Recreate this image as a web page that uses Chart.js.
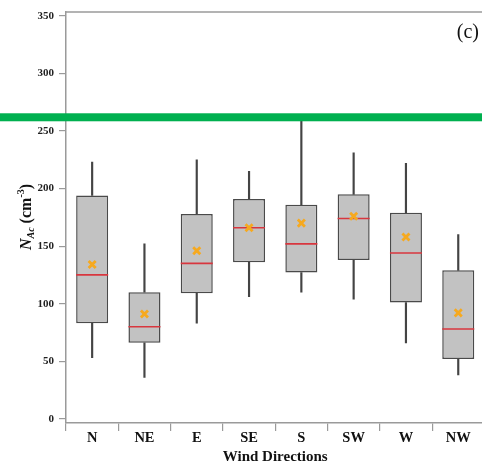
<!DOCTYPE html>
<html>
<head>
<meta charset="utf-8">
<script src="https://cdn.jsdelivr.net/npm/chart.js@4"></script>
<style>
  html, body { margin: 0; padding: 0; background: #fff; overflow: hidden; }
  #wrap { width: 482px; height: 468px; overflow: hidden; }
</style>
</head>
<body>
<div id="wrap"><canvas id="chartCanvas" width="486" height="468"></canvas></div>
<script>
const directions = ["N", "NE", "E", "SE", "S", "SW", "W", "NW"];
const whiskerLow = [53, 36, 83, 106, 110, 104, 66, 38];
const q1 = [83, 66, 109, 136, 127, 138, 101, 52];
const medians = [125, 80, 135, 166, 152, 174, 144, 78];
const q3 = [194, 110, 178, 191, 186, 195, 179, 129];
const whiskerHigh = [223, 152, 225, 215, 259, 231, 222, 160];
const means = [134, 91, 146, 166, 170, 176, 158, 92];
const yTicks = [0, 50, 100, 150, 200, 250, 300, 350];
const thresholdLevel = 262;

const SERIF = "'Liberation Serif', 'DejaVu Serif', serif";
const AXIS_GREY = "#9a9a9a";

// frame, green threshold line, panel label and axis titles
const extras = {
  id: "extras",
  beforeDatasetsDraw(chart) {
    const { ctx, chartArea } = chart;
    ctx.save();
    ctx.strokeStyle = AXIS_GREY;
    ctx.lineWidth = 1.5;
    ctx.beginPath();
    ctx.moveTo(chartArea.left, chartArea.top);
    ctx.lineTo(chartArea.right, chartArea.top);
    ctx.lineTo(chartArea.right, chartArea.bottom);
    ctx.stroke();
    ctx.restore();
  },
  afterDraw(chart) {
    const { ctx, chartArea, scales } = chart;
    ctx.save();

    // green threshold band across the whole figure
    const gy = scales.y.getPixelForValue(thresholdLevel);
    ctx.fillStyle = "#00b050";
    ctx.fillRect(0, gy - 4, chart.width, 8);

    // panel label
    ctx.fillStyle = "#111";
    ctx.font = "20px " + SERIF;
    ctx.textAlign = "right";
    ctx.textBaseline = "alphabetic";
    ctx.fillText("(c)", 479, 38);

    // x title
    ctx.font = "bold 15px " + SERIF;
    ctx.textAlign = "center";
    ctx.textBaseline = "middle";
    ctx.fillText("Wind Directions", (chartArea.left + chartArea.right) / 2, 457);

    // y title: N_Ac (cm^-3), rotated
    const parts = [
      { t: "N", f: "italic bold 16px " + SERIF, dy: 0 },
      { t: "Ac", f: "italic bold 10px " + SERIF, dy: 3 },
      { t: " (cm", f: "bold 16px " + SERIF, dy: 0 },
      { t: "-3", f: "bold 10px " + SERIF, dy: -7 },
      { t: ")", f: "bold 16px " + SERIF, dy: 0 },
    ];
    let total = 0;
    parts.forEach((p) => { ctx.font = p.f; p.w = ctx.measureText(p.t).width; total += p.w; });
    ctx.translate(31, 217);
    ctx.rotate(-Math.PI / 2);
    ctx.textAlign = "left";
    ctx.textBaseline = "alphabetic";
    let x = -total / 2;
    parts.forEach((p) => {
      ctx.font = p.f;
      ctx.fillText(p.t, x, p.dy);
      x += p.w;
    });
    ctx.restore();
  },
};

const whiskerStyle = {
  type: "bar",
  backgroundColor: "#444444",
  borderWidth: 0,
  barThickness: 1.5,
  grouped: false,
  order: 4,
};

new Chart(document.getElementById("chartCanvas"), {
  data: {
    labels: directions,
    datasets: [
      { ...whiskerStyle, label: "lower whisker", data: directions.map((d, i) => [whiskerLow[i], q1[i]]) },
      { ...whiskerStyle, label: "upper whisker", data: directions.map((d, i) => [q3[i], whiskerHigh[i]]) },
      {
        type: "bar",
        label: "IQR",
        data: directions.map((d, i) => [q1[i], q3[i]]),
        backgroundColor: "#c2c2c2",
        borderColor: "#4a4a4a",
        borderWidth: 1.5,
        borderSkipped: false,
        grouped: false,
        categoryPercentage: 1,
        barPercentage: 0.612,
        order: 3,
      },
      {
        type: "line",
        label: "median",
        data: medians,
        showLine: false,
        pointStyle: "line",
        pointRadius: 16,
        pointBorderWidth: 1.6,
        pointBorderColor: "#d8363e",
        borderColor: "#d8363e",
        order: 2,
      },
      {
        type: "line",
        label: "mean",
        data: means,
        showLine: false,
        pointStyle: "crossRot",
        pointRadius: 5,
        pointBorderWidth: 2.8,
        pointBorderColor: "#f6a91f",
        borderColor: "#f6a91f",
        order: 1,
      },
    ],
  },
  options: {
    responsive: false,
    animation: false,
    events: [],
    layout: { autoPadding: false, padding: { top: 12, right: 1.6, left: 0, bottom: 0 } },
    plugins: { legend: { display: false }, tooltip: { enabled: false } },
    scales: {
      x: {
        type: "category",
        offset: true,
        grid: { offset: true, drawOnChartArea: false, tickLength: 8, color: AXIS_GREY, lineWidth: 1.2 },
        border: { color: AXIS_GREY, width: 1.5 },
        ticks: { font: { family: SERIF, size: 14.5, weight: "bold" }, color: "#111", padding: -1 },
        afterFit: (s) => { s.height = 45; },
      },
      y: {
        min: -3.7,
        max: 353.5,
        afterBuildTicks: (s) => { s.ticks = yTicks.map((v) => ({ value: v })); },
        grid: { drawOnChartArea: false, tickLength: 7, color: AXIS_GREY, lineWidth: 1.2 },
        border: { color: AXIS_GREY, width: 1.5 },
        ticks: { font: { family: SERIF, size: 11, weight: "bold" }, color: "#222", padding: 5 },
        afterFit: (s) => { s.width = 66; },
      },
    },
  },
  plugins: [extras],
});
</script>
</body>
</html>
